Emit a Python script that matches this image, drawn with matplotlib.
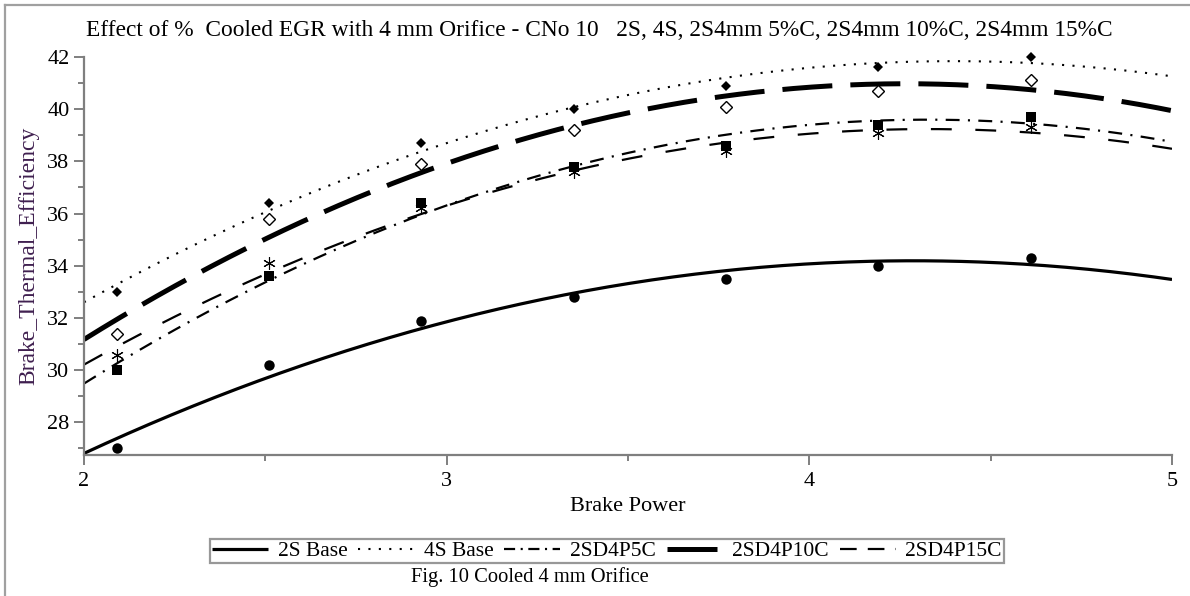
import numpy as np
import matplotlib
matplotlib.use("Agg")
import matplotlib.pyplot as plt
from matplotlib.ticker import MultipleLocator
from matplotlib.lines import Line2D

plt.rcParams['font.family'] = ['Liberation Serif', 'DejaVu Serif']
plt.rcParams['lines.scale_dashes'] = False

# ---- data ----
brake_power = [2.09, 2.51, 2.93, 3.35, 3.77, 4.19, 4.61]
bte_2s_base = [27.0, 30.2, 31.9, 32.8, 33.5, 34.0, 34.3]
bte_4s_base = [33.0, 36.4, 38.7, 40.0, 40.9, 41.6, 42.0]
bte_2sd4p5c = [30.0, 33.6, 36.4, 37.8, 38.6, 39.4, 39.7]
bte_2sd4p10c = [31.4, 35.8, 37.9, 39.2, 40.1, 40.7, 41.1]
bte_2sd4p15c = [30.6, 34.1, 36.2, 37.6, 38.4, 39.1, 39.3]
series_names = ["2S Base", "4S Base", "2SD4P5C", "2SD4P10C", "2SD4P15C"]
x_ticks = [2, 3, 4, 5]
y_ticks = [28, 30, 32, 34, 36, 38, 40, 42]

W, H = 1190, 596
fig = plt.figure(figsize=(W / 100, H / 100), dpi=100)
ax = fig.add_axes([84 / W, 1 - 455 / H, (1172 - 84) / W, (455 - 57) / H])

styles = [
    dict(lw=2.3, dashes=None, marker='o', ms=7.5, mfc='black', mew=0),
    dict(lw=1.5, dashes=(1.5, 6.0), marker='D', ms=5.5, mfc='black', mew=0),
    dict(lw=1.6, dashes=(10, 6, 1.5, 6), marker='s', ms=7.5, mfc='black', mew=0),
    dict(lw=3.6, dashes=(36, 13), marker='D', ms=6, mfc='white', mew=1.0),
    dict(lw=1.6, dashes=(15, 17), marker=(6, 2, 0), ms=9, mfc='black', mew=0.8),
]
legend_dashes = [None, (1.5, 6.0), (8, 4, 1.5, 4), (36, 13), (12, 8)]
all_series = [bte_2s_base, bte_4s_base, bte_2sd4p5c, bte_2sd4p10c, bte_2sd4p15c]

xs = np.linspace(2, 5, 300)
handles = []
for name, ys, st, ld in zip(series_names, all_series, styles, legend_dashes):
    coef = np.polyfit(brake_power, ys, 2)
    line, = ax.plot(xs, np.polyval(coef, xs), color='black', lw=st['lw'],
                    solid_capstyle='butt', dash_capstyle='butt', zorder=2)
    if st['dashes'] is not None:
        line.set_dashes(st['dashes'])
    ax.plot(brake_power, ys, linestyle='none', marker=st['marker'], ms=st['ms'],
            mfc=st['mfc'], mec='black', mew=st['mew'], color='black', zorder=3,
            clip_on=False)
    h = Line2D([], [], color='black', lw=st['lw'], solid_capstyle='butt', dash_capstyle='butt')
    if ld is not None:
        h.set_dashes(ld)
    handles.append(h)

ax.set_xlim(2, 5)
ax.set_ylim(26.75, 42)
ax.set_xticks(x_ticks)
ax.set_yticks(y_ticks)
ax.xaxis.set_minor_locator(MultipleLocator(0.5))
ax.yaxis.set_minor_locator(MultipleLocator(1))
for s in ['top', 'right']:
    ax.spines[s].set_visible(False)
for s in ['left', 'bottom']:
    ax.spines[s].set_color('#7f7f7f')
    ax.spines[s].set_linewidth(1.6)
ax.tick_params(axis='both', which='major', length=7.5, width=1.4, color='#7f7f7f',
               labelsize=16, pad=3)
ax.tick_params(axis='both', which='minor', length=4.5, width=1.4, color='#7f7f7f')
ax.tick_params(axis='x', which='major', pad=5)

ax.set_xlabel("Brake Power", fontsize=16, labelpad=4)
ax.set_ylabel("Brake_Thermal_Efficiency", fontsize=17, color='#3f1f4f')
ax.yaxis.set_label_coords(-0.041, 0.5)

fig.text(86 / W, 1 - 30 / H, "Effect of %  Cooled EGR with 4 mm Orifice - CNo 10   2S, 4S, 2S4mm 5%C, 2S4mm 10%C, 2S4mm 15%C",
         fontsize=16.8, ha='left', va='center')

leg = fig.legend(handles, series_names, loc='center', bbox_to_anchor=(607 / W, 1 - 551 / H),
                 ncol=5, fontsize=15.5, frameon=True, fancybox=False, handlelength=2.6,
                 handletextpad=0.45, columnspacing=0.5, borderpad=0.1, borderaxespad=0)
leg.get_frame().set_edgecolor('#7f7f7f')
leg.get_frame().set_linewidth(1.6)

fig.text(530 / W, 1 - 577 / H, "Fig. 10 Cooled 4 mm Orifice", fontsize=14.8, ha='center', va='center')

# outer frame (left & top)
fig.add_artist(Line2D([5 / W, 5 / W], [0, 1 - 5 / H], color='#a0a0a0', lw=1.6, transform=fig.transFigure))
fig.add_artist(Line2D([5 / W, 1], [1 - 5 / H, 1 - 5 / H], color='#a0a0a0', lw=1.6, transform=fig.transFigure))

fig.savefig("out.png", dpi=100)
